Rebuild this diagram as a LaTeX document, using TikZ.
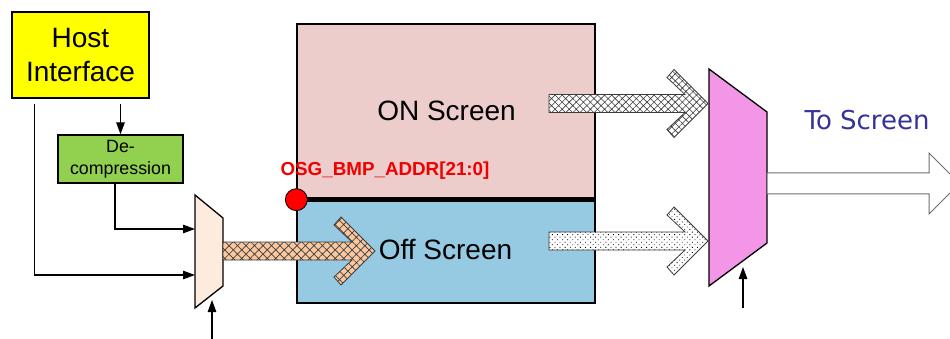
\documentclass[tikz,border=0pt]{standalone}
\usepackage{fontspec}
\setmainfont{Liberation Sans}
\newfontfamily\screenfont{DejaVu Sans}
\usetikzlibrary{arrows.meta,patterns.meta}
\definecolor{hostyel}{RGB}{255,255,0}
\definecolor{decgreen}{RGB}{146,208,80}
\definecolor{muxpeach}{RGB}{253,235,222}
\definecolor{muxpink}{RGB}{243,150,232}
\definecolor{onpink}{RGB}{236,205,203}
\definecolor{offblue}{RGB}{150,202,226}
\definecolor{buspeach}{RGB}{250,200,160}
\definecolor{addrred}{RGB}{240,0,0}
\definecolor{outblue}{RGB}{51,51,153}
\definecolor{busline}{RGB}{60,60,60}
\definecolor{outline}{RGB}{110,110,110}
% chevron bus arrow: style, start x, tip x, centre y
\newcommand{\busarrow}[4]{%
  \draw[#1] (#2,{#4-9}) -- ({#3-23},{#4-9}) -- ({#3-41},{#4-26}) -- ({#3-34},{#4-34})
    -- (#3,#4) -- ({#3-34},{#4+34}) -- ({#3-41},{#4+26}) -- ({#3-23},{#4+9}) -- (#2,{#4+9}) -- cycle;}
\tikzset{
  unit/.style={draw, line width=1.3pt, inner sep=0pt, align=center},
  sig/.style={line width=1.2pt, -{Triangle[length=12pt,width=8.5pt]}},
  mux/.style={draw, line width=1.3pt, line join=miter},
  bus/.style={draw=busline, line width=0.8pt},
  big/.style={font=\fontsize{28}{34}\selectfont},
}

\begin{document}
\begin{tikzpicture}[x=1pt,y=-1pt]
  \clip (0,0) rectangle (950,339);
  % host side
  \node[unit, big, fill=hostyel, minimum width=137pt, minimum height=86pt] (host) at (80.5,55) {Host\\Interface};
  \node[unit, fill=decgreen, minimum width=125pt, minimum height=48pt, font=\fontsize{17.8}{22}\selectfont] (dec) at (120.5,159) {De-\\compression};
  % input mux
  \draw[mux, fill=muxpeach] (195,195) -- (223,218) -- (223,286) -- (195,308) -- cycle;
  \coordinate (m1in1) at (195,229);
  \coordinate (m1in2) at (195,275);
  \coordinate (m1sel) at (212,300);
  \coordinate (m1src) at (212,339);
  \draw[sig] ([yshift=-5pt]host.south -| dec.north) -- (dec.north);
  \draw[sig] ([xshift=23pt,yshift=-5pt]host.south west) |- (m1in2);
  \draw[sig] ([xshift=-5.5pt]dec.south) |- (m1in1);
  \draw[sig] (m1src) -- (m1sel);
  % frame buffer
  \node[unit, fill=onpink, minimum width=298pt, minimum height=175pt] (onscr) at (446,111.5) {};
  \node[unit, fill=offblue, minimum width=298pt, minimum height=104pt] (offscr) at (446,251) {};
  \draw[line width=5pt] (onscr.south west) -- (onscr.south east);
  \node[big, anchor=base] (ontxt) at (446.5,121) {ON Screen};
  \node[big, anchor=base] (offtxt) at (445.5,259) {Off Screen};
  \node[circle, draw, line width=0.8pt, fill=red, minimum size=22pt, inner sep=0pt] (addr) at (onscr.south west) {};
  \node[anchor=base west, text=addrred, font=\bfseries\fontsize{18.8}{22}\selectfont] (addrtxt) at (277,176) {OSG\_BMP\_ADDR[21:0]};
  % output mux
  \draw[mux, fill=muxpink] (709,69) -- (767,112) -- (767,243) -- (709,286) -- cycle;
  \coordinate (m2sel) at (743,267);
  \coordinate (m2src) at (743,308);
  \draw[sig] (m2src) -- (m2sel);
  % buses
  \busarrow{bus, preaction={fill=buspeach}, pattern={Hatch[angle=45,distance=6pt,line width=0.7pt]}, pattern color=busline}{223}{375}{251}
  \busarrow{bus, preaction={fill=white}, pattern={Hatch[angle=45,distance=5pt,line width=0.6pt]}, pattern color=busline}{549}{708}{103.5}
  \busarrow{bus, preaction={fill=white}, pattern={Dots[angle=45,distance=3.6pt,radius=0.6pt]}, pattern color=black}{549}{708}{241}
  \draw[draw=outline, line width=1pt, fill=white] (767,173) -- (929,173) -- (929,153) -- (959.5,183.5) -- (929,214) -- (929,194) -- (767,194) -- cycle;
  \node[anchor=base west, text=outblue, font=\screenfont\fontsize{26}{30}\selectfont] (outtxt) at (801,130) {To Screen};
\end{tikzpicture}
\end{document}
